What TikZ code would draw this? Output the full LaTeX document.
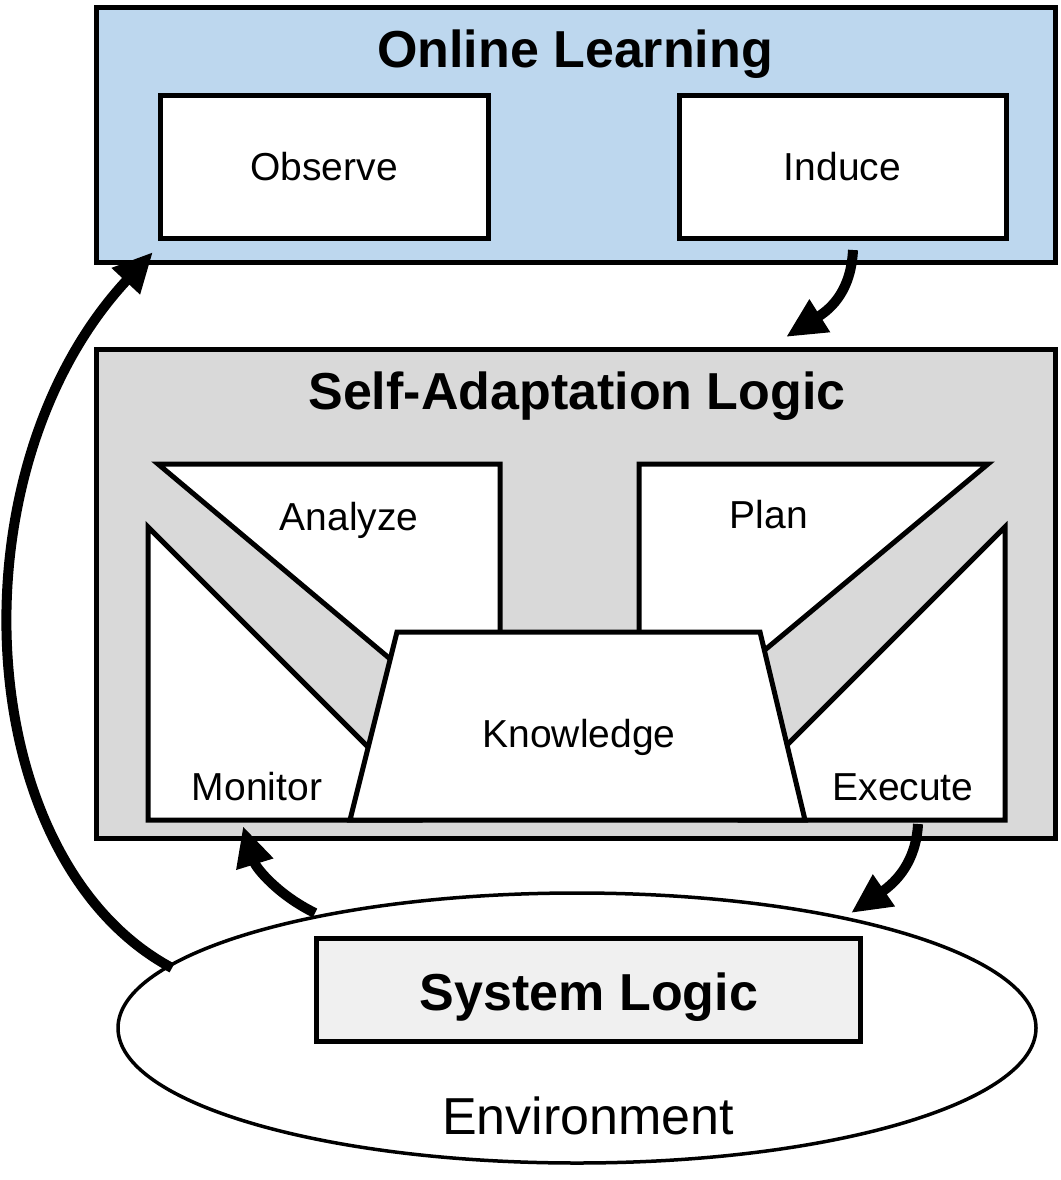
\documentclass[tikz,border=0pt]{standalone}
\usepackage{fontspec}
\setmainfont{Liberation Sans}
\usetikzlibrary{arrows.meta}
\definecolor{olblue}{RGB}{189,215,238}
\definecolor{salgray}{RGB}{217,217,217}
\definecolor{sysgray}{RGB}{240,240,240}
\tikzset{
  frame/.style={draw=black, line width=5pt, line join=miter},
  part/.style={draw=black, fill=white, line width=5pt, line join=miter},
  title/.style={font=\fontsize{52}{60}\selectfont\bfseries, anchor=base, inner sep=0pt},
  lbl/.style={font=\fontsize{39}{45}\selectfont, anchor=base, inner sep=0pt},
  flow/.style={line width=10pt, -{Triangle[length=40pt,width=36pt]}},
}
\begin{document}
\begin{tikzpicture}[x=1pt,y=-1pt]
\useasboundingbox (0,0) rectangle (1060,1180);
% Online Learning
\draw[frame, fill=olblue] (96,8) rectangle (1055,262);
\node[title] (ol) at (575,68) {Online Learning};
\node[part, minimum width=328pt, minimum height=142pt, font=\fontsize{39}{45}\selectfont] (observe) at (324,167) {Observe};
\node[part, minimum width=327pt, minimum height=142pt, font=\fontsize{39}{45}\selectfont] (induce) at (842.5,167) {Induce};
% Self-Adaptation Logic
\draw[frame, fill=salgray] (96,349) rectangle (1055,838);
\node[title] (sal) at (577,409) {Self-Adaptation Logic};
% MAPE parts
\draw[part] (158,464) -- (500,464) -- (500,684) -- (420,684) -- cycle;
\draw[part] (639,464) -- (988,464) -- (730,679) -- (639,679) -- cycle;
\draw[part] (148,527) -- (148,820) -- (420,820) -- (420,799) -- cycle;
\draw[part] (1005,527) -- (1005,820) -- (740,820) -- (740,792) -- cycle;
\draw[part] (397,632) -- (760,632) -- (805,820) -- (350,820) -- cycle;
\node[lbl] (analyze) at (349,530) {Analyze};
\node[lbl] (plan) at (769,528) {Plan};
\node[lbl] (monitor) at (257,800) {Monitor};
\node[lbl] (execute) at (903,800) {Execute};
\node[lbl] (knowledge) at (579,747) {Knowledge};
% Environment
\draw[line width=3.5pt, fill=white] (577,1028) ellipse [x radius=459, y radius=135];
\node[lbl, font=\fontsize{52}{60}\selectfont] (env) at (588,1134) {Environment};
\node[draw=black, fill=sysgray, line width=5pt, minimum width=544pt, minimum height=103pt, inner sep=0pt] (sys) at (588,989.5) {};
\node[title] (syslbl) at (589,1010) {System Logic};
% arrow end points
\coordinate (indS) at (853,250);
\coordinate (indE) at (786,337);
\coordinate (exeS) at (918,824);
\coordinate (exeE) at (851,913);
\coordinate (monS) at (315,913);
\coordinate (monE) at (243,826);
\coordinate (envS) at (172,968);
\coordinate (obsE) at (153,252);
% arrows
\draw[flow] (indS) .. controls (851,290) and (832,308) .. (indE);
\draw[flow] (exeS) .. controls (916,862) and (896,882) .. (exeE);
\draw[flow] (monS) .. controls (278,895) and (256,868) .. (monE);
\draw[flow] (envS) .. controls (-30,860) and (-50,470) .. (obsE);
\end{tikzpicture}
\end{document}
